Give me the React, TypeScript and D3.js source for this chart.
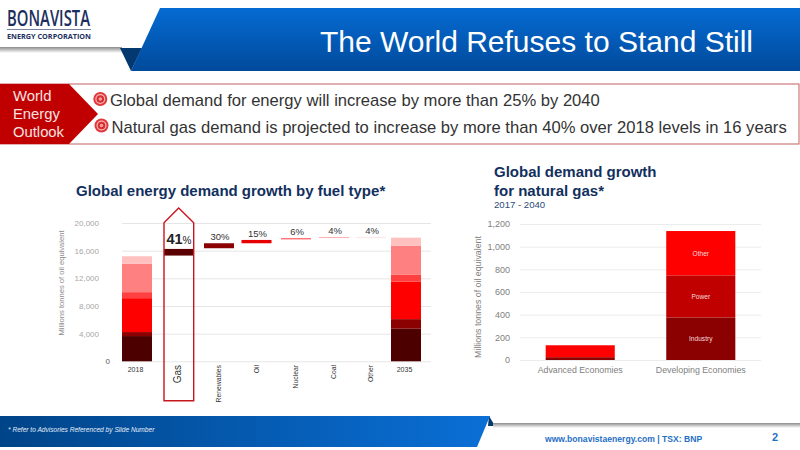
import React, { useEffect, useRef } from 'react';
import * as d3 from 'd3';

const FONT = '"Liberation Sans", Arial, sans-serif';

// left chart
const fuelCategories = ['2018', 'Gas', 'Renewables', 'Oil', 'Nuclear', 'Coal', 'Other', '2035'];
const fuelTicks = [0, 4000, 8000, 12000, 16000, 20000];
const layerKeys = ['coal', 'other1', 'gas', 'nuclear', 'oil', 'renew'];
const layerColors = ['#4d0000', '#8b0000', '#ff0000', '#ff4040', '#ff8080', '#ffc0c0'];
const stack2018 = [3650, 580, 4900, 870, 4130, 1060];
const stack2035 = [4710, 1390, 5440, 960, 4230, 1150];
const stepNames = ['Gas', 'Renewables', 'Oil', 'Nuclear', 'Coal', 'Other'];
const stepStart = [15290, 16350, 17070, 17640, 17840, 17900];
const stepEnd = [16250, 17070, 17550, 17790, 17930, 17960];
const stepColors = ['#5a0000', '#8b0000', '#e60000', '#ff4040', '#ff8080', '#ffc0c0'];
const stepLabels = ['41', '30%', '15%', '6%', '4%', '4%'];

// right chart
const regionNames = ['Advanced Economies', 'Developing Economies'];
const gasTicks = [0, 200, 400, 600, 800, 1000, 1200];
const gasKeys = ['Industry', 'Power', 'Other'];
const gasColors = ['#8b0000', '#c00000', '#ff0000'];
const advanced = [25, 0, 105];
const developing = [376, 371, 391];

// the slots on the slide are hand placed, so not evenly spaced
const fuelX = d3.scaleOrdinal<string, number>().domain(fuelCategories).range([137, 179, 219, 256.5, 296, 334, 371, 406]);
const fuelBar = 30;
const fuelY = d3.scaleLinear().domain([0, 20000]).range([361.3, 223]);
const gasX = d3.scaleBand().domain(regionNames).range([520, 761]).paddingInner(0.427).paddingOuter(0.213);
const gasY = d3.scaleLinear().domain([0, 1200]).range([360, 224]);

const fuelRows = [
  { name: '2018', ...Object.fromEntries(layerKeys.map((k, i) => [k, stack2018[i]])) },
  { name: '2035', ...Object.fromEntries(layerKeys.map((k, i) => [k, stack2035[i]])) },
];
const gasRows = [
  { name: regionNames[0], ...Object.fromEntries(gasKeys.map((k, i) => [k, advanced[i]])) },
  { name: regionNames[1], ...Object.fromEntries(gasKeys.map((k, i) => [k, developing[i]])) },
];
const fuelStack = d3.stack<any>().keys(layerKeys)(fuelRows);
const gasStack = d3.stack<any>().keys(gasKeys)(gasRows);

const Target: React.FC<{ cx: number; cy: number }> = ({ cx, cy }) => (
  <g>
    <circle cx={cx} cy={cy} r={7} fill="#e0383e" />
    <circle cx={cx} cy={cy} r={5} fill="#f6b9b0" />
    <circle cx={cx} cy={cy} r={3.8} fill="#d92b30" />
    <circle cx={cx} cy={cy} r={1.8} fill="#f3a39b" />
  </g>
);

const App: React.FC = () => {
  const fuelAxisRef = useRef<SVGGElement>(null);
  const gasAxisRef = useRef<SVGGElement>(null);
  const gasBottomRef = useRef<SVGGElement>(null);

  useEffect(() => {
    const fa = d3.select(fuelAxisRef.current as SVGGElement);
    fa.call(d3.axisLeft(fuelY).tickValues(fuelTicks).tickSize(-309).tickFormat(d3.format(',') as any));
    fa.select('.domain').remove();
    fa.selectAll('line').attr('stroke', '#e6e6e6').attr('stroke-width', 1);
    fa.selectAll<SVGTextElement, number>('text')
      .attr('font-family', FONT)
      .attr('font-size', 8)
      .attr('fill', (d) => (d === 0 ? '#595959' : '#a6a6a6'))
      .attr('x', (d) => (d === 0 ? -12 : -23));

    const ga = d3.select(gasAxisRef.current as SVGGElement);
    ga.call(d3.axisLeft(gasY).tickValues(gasTicks).tickSize(-241).tickFormat(d3.format(',') as any));
    ga.select('.domain').remove();
    ga.selectAll('line').attr('stroke', '#ececec').attr('stroke-width', 1);
    ga.selectAll('text').attr('font-family', FONT).attr('font-size', 9).attr('fill', '#808080').attr('x', -10);

    const gb = d3.select(gasBottomRef.current as SVGGElement);
    gb.call(d3.axisBottom(gasX).tickSize(0));
    gb.select('.domain').remove();
    gb.selectAll('text').attr('font-family', FONT).attr('font-size', 8.8).attr('fill', '#808080').attr('y', 7);
  }, []);

  return (
    <svg width={800} height={450} viewBox="0 0 800 450" style={{ position: 'absolute', left: 0, top: 0, background: '#fff' }} fontFamily={FONT}>
      <defs>
        <linearGradient id="head" x1="0" y1="0" x2="0" y2="1">
          <stop offset="0" stopColor="#056bd3" />
          <stop offset="1" stopColor="#014a9b" />
        </linearGradient>
        <linearGradient id="foot" x1="0" y1="0" x2="1" y2="0">
          <stop offset="0" stopColor="#004488" />
          <stop offset="1" stopColor="#0a6fd6" />
        </linearGradient>
        <linearGradient id="rule" x1="0" y1="0" x2="0" y2="1">
          <stop offset="0" stopColor="#8c8c8c" />
          <stop offset="1" stopColor="#ffffff" />
        </linearGradient>
      </defs>

      {/* header */}
      <rect x={0} y={47} width={122} height={6} fill="url(#rule)" />
      <polygon points="120,48 142,48 131,71" fill="#03396f" />
      <polygon points="160,8 800,8 800,71 131,71" fill="url(#head)" />
      <text x={753} y={52} textAnchor="end" fontSize={30} fill="#fff">The World Refuses to Stand Still</text>
      <text x={7} y={26} fontFamily='"Open Sans"' fontWeight={600} fontSize={21} fill="#1d2f5e" textLength={83} lengthAdjust="spacingAndGlyphs">BONAVISTA</text>
      <line x1={7} x2={91} y1={29.5} y2={29.5} stroke="#1d2f5e" strokeWidth={0.6} />
      <text x={7} y={39} fontFamily='"Open Sans"' fontWeight={700} fontSize={7.5} fill="#1d2f5e" textLength={84} lengthAdjust="spacingAndGlyphs">ENERGY CORPORATION</text>

      {/* callout */}
      <rect x={-2} y={84} width={801} height={60} fill="#fff" stroke="#cc7a7a" strokeWidth={1.2} />
      <polygon points="0,84 69,84 98,114 69,144 0,144" fill="#c00000" />
      <g fill="#f7e3e3" fontSize={14.8}>
        <text x={13} y={101}>World</text>
        <text x={13} y={119}>Energy</text>
        <text x={13} y={137}>Outlook</text>
      </g>
      <Target cx={100.3} cy={99} />
      <Target cx={101.5} cy={125.5} />
      <g fill="#333" fontSize={16.6}>
        <text x={110} y={105.5}>Global demand for energy will increase by more than 25% by 2040</text>
        <text x={111.5} y={132.5}>Natural gas demand is projected to increase by more than 40% over 2018 levels in 16 years</text>
      </g>

      {/* left chart */}
      <text x={76} y={196} fontSize={15} fontWeight={700} fill="#12305e">Global energy demand growth by fuel type*</text>
      <g ref={fuelAxisRef} transform="translate(122,0)" />
      <text transform="translate(63.5,283) rotate(-90)" textAnchor="middle" fontSize={7.6} fill="#8c8c8c">Millions tonnes of oil equivalent</text>
      {fuelStack.map((layer, i) => (
        <g key={layer.key} fill={layerColors[i]}>
          {layer.map((d) => (
            <rect key={d.data.name} x={fuelX(d.data.name) - fuelBar / 2} width={fuelBar} y={fuelY(d[1])} height={fuelY(d[0]) - fuelY(d[1])} />
          ))}
        </g>
      ))}
      {stepNames.map((n, i) => (
        <rect key={n} x={fuelX(n) - fuelBar / 2} width={fuelBar} y={fuelY(stepEnd[i])} height={fuelY(stepStart[i]) - fuelY(stepEnd[i])} fill={stepColors[i]} />
      ))}
      <polygon points="164,222.7 178.7,208 193.7,222.7 193.7,400.7 164,400.7" fill="none" stroke="#c8161d" strokeWidth={1.4} />
      {stepNames.map((n, i) => {
        const cx = fuelX(n);
        if (i === 0) {
          return (
            <text key={n} x={cx} y={fuelY(stepEnd[i]) - 4.5} textAnchor="middle" fontWeight={700} fill="#222" fontSize={14.5}>
              {stepLabels[i]}<tspan fontSize={10} fontWeight={400}>%</tspan>
            </text>
          );
        }
        return (
          <text key={n} x={cx + 1} y={fuelY(stepEnd[i]) - 3} textAnchor="middle" fontSize={9.5} fill="#333">{stepLabels[i]}</text>
        );
      })}
      {fuelCategories.map((c) => {
        const cx = fuelX(c);
        if (c === '2018' || c === '2035') {
          return <text key={c} x={cx - 1.5} y={372} textAnchor="middle" fontSize={7} fill="#333">{c}</text>;
        }
        return (
          <text key={c} transform={`translate(${cx + 2},365) rotate(-90)`} textAnchor="end" fontSize={c === 'Gas' ? 10 : 6.8} fill="#333">{c}</text>
        );
      })}

      {/* right chart */}
      <g fontSize={15} fontWeight={700} fill="#12305e">
        <text x={494} y={177}>Global demand growth</text>
        <text x={494} y={196}>for natural gas*</text>
      </g>
      <text x={494} y={208} fontSize={9.6} fill="#2c4a78">2017 - 2040</text>
      <g ref={gasAxisRef} transform="translate(520,0)" />
      <g ref={gasBottomRef} transform="translate(0,360)" />
      <text transform="translate(481,297) rotate(-90)" textAnchor="middle" fontSize={8.8} fill="#808080">Millions tonnes of oil equivalent</text>
      {gasStack.map((layer, i) => (
        <g key={layer.key} fill={gasColors[i]}>
          {layer.map((d) => (
            <rect key={d.data.name} x={gasX(d.data.name)} width={gasX.bandwidth()} y={gasY(d[1])} height={gasY(d[0]) - gasY(d[1])} />
          ))}
        </g>
      ))}
      {gasStack.map((layer) => {
        const d = layer[1];
        return (
          <text key={layer.key} x={(gasX(regionNames[1]) as number) + gasX.bandwidth() / 2} y={(gasY(d[0]) + gasY(d[1])) / 2 + 2.5} textAnchor="middle" fontSize={6.6} fill="#f5dcdc">{layer.key}</text>
        );
      })}

      {/* footer */}
      <polygon points="489,416 495,426 488,426" fill="#03396f" />
      <rect x={493} y={423} width={307} height={5} fill="url(#rule)" />
      <polygon points="0,416 490,416 477,447 0,447" fill="url(#foot)" />
      <text x={8} y={432} fontSize={6.6} fontStyle="italic" fill="#e6eef8">* Refer to Advisories Referenced by Slide Number</text>
      <text x={545} y={441.5} fontSize={8.6} fontWeight={700} fill="#1f6fc4">www.bonavistaenergy.com  |  TSX: BNP</text>
      <text x={775} y={441} textAnchor="middle" fontSize={11} fontWeight={700} fill="#1f6fc4">2</text>
    </svg>
  );
};

export default App;
